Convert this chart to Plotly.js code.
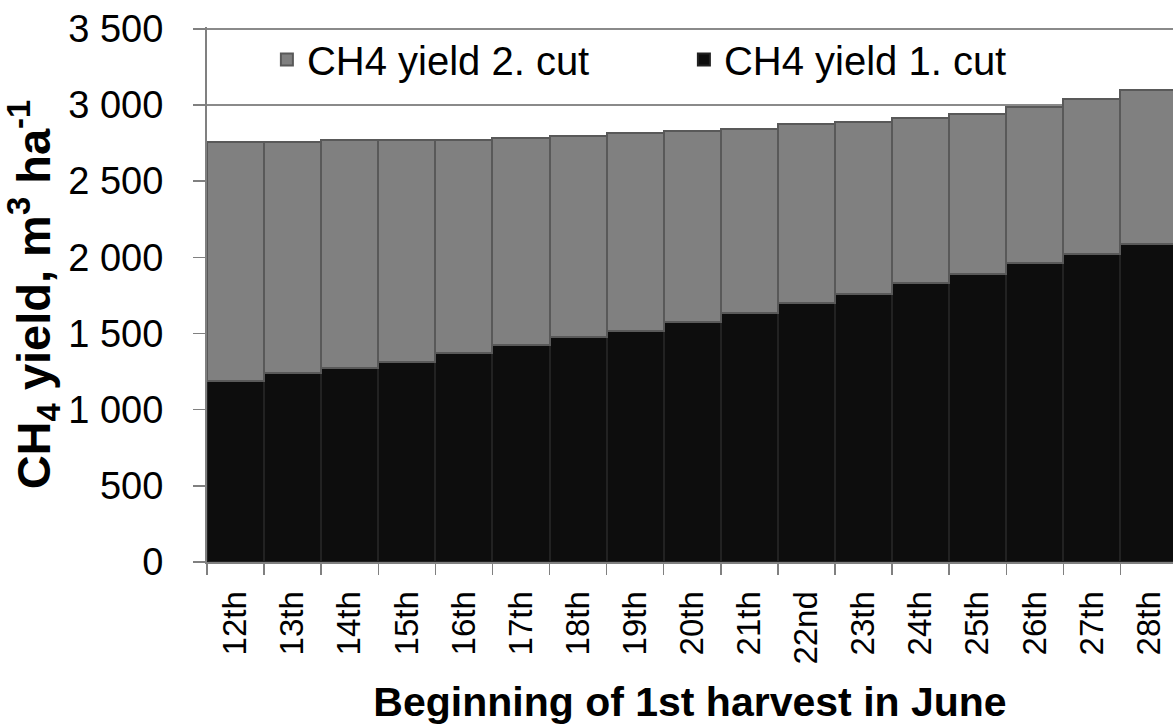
<!DOCTYPE html>
<html>
<head>
<meta charset="utf-8">
<script src="https://cdn.plot.ly/plotly-3.0.1.min.js"></script>
<style>html,body{margin:0;padding:0;background:#fff;}#chart{width:1173px;height:725px;}</style>
</head>
<body>
<div id="chart"></div>
<script>
const categories = ["12th","13th","14th","15th","16th","17th","18th","19th","20th","21th","22nd","23th","24th","25th","26th","27th","28th"];
const cut1 = [1191,1243,1272,1315,1374,1423,1479,1517,1575,1633,1703,1760,1834,1893,1961,2021,2090];
const cut2 = [1569,1514,1499,1452,1395,1363,1320,1298,1255,1210,1171,1127,1079,1051,1027,1021,1007];
const yTicks = [0,500,1000,1500,2000,2500,3000,3500];

const FONT = '"Liberation Sans", Arial, sans-serif';

const traces = [
  {
    type: 'bar', name: 'CH4 yield 1. cut', x: categories, y: cut1,
    marker: {color: '#0d0d0d', line: {color: '#222222', width: 2}}
  },
  {
    type: 'bar', name: 'CH4 yield 2. cut', x: categories, y: cut2,
    marker: {color: '#808080', line: {color: '#595959', width: 2}}
  }
];

const layout = {
  width: 1173, height: 725,
  margin: {l: 207, r: 0, t: 27, b: 163, pad: 0},
  paper_bgcolor: '#ffffff', plot_bgcolor: '#ffffff',
  barmode: 'stack', bargap: 0,
  separators: ', ',
  font: {family: FONT, color: '#000000'},
  showlegend: true,
  legend: {
    orientation: 'h', x: 0.062, xanchor: 'left', y: 1.0, yanchor: 'top',
    traceorder: 'reversed', bgcolor: 'rgba(255,255,255,0)',
    font: {family: FONT, size: 40, color: '#000'},
    entrywidth: 372, entrywidthmode: 'pixels'
  },
  xaxis: {
    type: 'category',
    range: [-0.5, 16.42],
    tickangle: -90,
    tickson: 'boundaries',
    ticks: 'outside', ticklen: 11, tickwidth: 1.5, tickcolor: '#808080',
    ticklabelstandoff: 14,
    showline: true, linecolor: '#808080', linewidth: 2,
    showgrid: false, zeroline: false,
    tickfont: {family: FONT, size: 33, color: '#000'},
    title: {text: '<b>Beginning of 1st harvest in June</b>', font: {family: FONT, size: 41, color: '#000'}, standoff: 27},
    automargin: false, fixedrange: true
  },
  yaxis: {
    range: [0, 3512],
    tickvals: yTicks,
    separatethousands: true,
    ticks: 'outside', ticklen: 12, tickwidth: 1.5, tickcolor: '#808080',
    ticklabelstandoff: 22,
    showline: true, linecolor: '#808080', linewidth: 2,
    showgrid: true, gridcolor: '#8a8a8a', gridwidth: 1.5,
    zeroline: false,
    tickfont: {family: FONT, size: 38, color: '#000'},
    title: {text: '<b>CH<sub>4</sub> yield, m<sup>3</sup> ha<sup>-1</sup></b>', font: {family: FONT, size: 47, color: '#000'}, standoff: 6},
    automargin: false, fixedrange: true
  }
};

Plotly.newPlot('chart', traces, layout, {displayModeBar: false, staticPlot: true});
</script>
</body>
</html>
